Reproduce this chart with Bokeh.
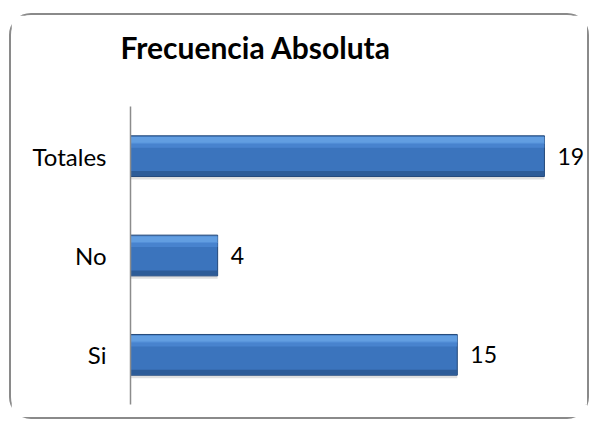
from bokeh.plotting import figure
from bokeh.models import ColumnDataSource, Title
from bokeh.transform import dodge
from bokeh.core.properties import value
from bokeh.embed import file_html
from bokeh.resources import INLINE

categories = ["Si", "No", "Totales"]
counts = [15, 4, 19]
count_labels = ["15", "4", "19"]
chart_title = "Frecuencia Absoluta"

src = ColumnDataSource(dict(cat=categories, val=counts, lab=count_labels))

p = figure(width=580, height=406, y_range=categories, x_range=(0, 21.16),
           output_backend="svg", toolbar_location=None,
           min_border_left=119, min_border_right=0, min_border_top=91, min_border_bottom=17)
p.styles = {"margin-left": "9px", "margin-top": "13px",
            "border": "2px solid #8a8a8a", "border-radius": "22px"}

# spacer between the title and the plot area (added first: nearest to the frame)
spacer = Title(text=" ", text_font_size="10px", standoff=22)
p.add_layout(spacer, "above")
main_title = Title(text=chart_title, text_font="Lato", text_font_size="30px",
                   text_font_style="bold", text_color="#000000", align="left",
                   vertical_align="top", offset=-10, standoff=10)
p.add_layout(main_title, "above")

# shadow
p.hbar(y=dodge("cat", -0.025, range=p.y_range), left=0, right="val", height=0.42,
       source=src, fill_color="#000000", fill_alpha=0.12, line_color=None)
# main bar
p.hbar(y="cat", left=0, right="val", height=0.41, source=src,
       fill_color="#3b74bd", line_color="#24497a", line_width=1)
# top highlight
p.hbar(y=dodge("cat", 0.16, range=p.y_range), left=0, right="val", height=0.07, source=src,
       fill_color="#6aa6e8", fill_alpha=0.85, line_color=None)
p.hbar(y=dodge("cat", 0.11, range=p.y_range), left=0, right="val", height=0.05, source=src,
       fill_color="#4f8ad6", fill_alpha=0.7, line_color=None)
# bottom dark strip
p.hbar(y=dodge("cat", -0.175, range=p.y_range), left=0, right="val", height=0.05, source=src,
       fill_color="#2c5a94", fill_alpha=0.9, line_color=None)

p.text(x="val", y="cat", text="lab", source=src, x_offset=13,
       text_font=value("Lato"), text_font_size="23px", text_color="#000000",
       text_align="left", text_baseline="middle")

p.xaxis.visible = False
p.xgrid.visible = False
p.ygrid.visible = False
p.outline_line_color = None
p.yaxis.axis_line_color = "#8c8c8c"
p.yaxis.axis_line_width = 1.5
p.yaxis.major_tick_line_color = None
p.yaxis.minor_tick_line_color = None
p.yaxis.major_tick_out = 0
p.yaxis.major_tick_in = 0
p.yaxis.major_label_standoff = 24
p.yaxis.major_label_text_font = "Lato"
p.yaxis.major_label_text_font_size = "24px"
p.yaxis.major_label_text_color = "#000000"
p.y_range.range_padding = 0

open("out.html", "w").write(file_html(p, INLINE))
